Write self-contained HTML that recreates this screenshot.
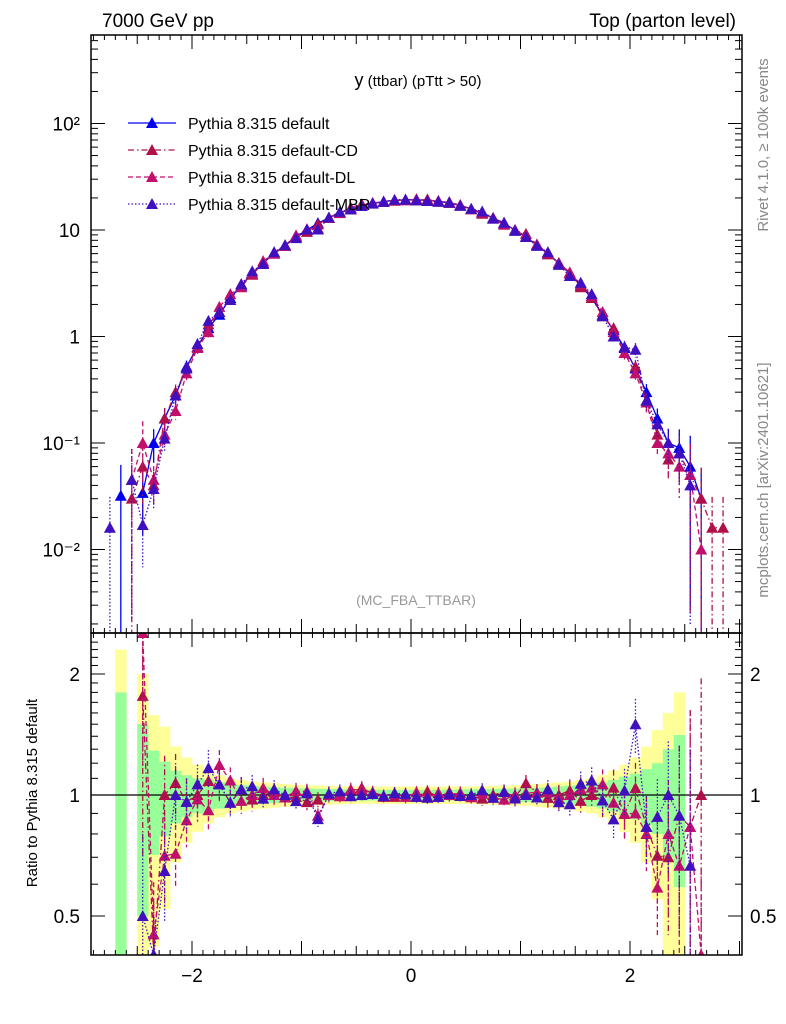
<!DOCTYPE html>
<html><head><meta charset="utf-8"><style>
html,body{margin:0;padding:0;background:#fff;width:786px;height:1024px;overflow:hidden}
svg{display:block;font-family:"Liberation Sans",sans-serif}
</style></head><body>
<svg id="chart" width="786" height="1024" viewBox="0 0 786 1024">
<text x="102" y="27" font-size="19">7000 GeV pp</text>
<text x="736" y="27" font-size="19" text-anchor="end">Top (parton level)</text>
<text x="418" y="86" text-anchor="middle"><tspan font-size="18">y</tspan><tspan font-size="15"> (ttbar) (pTtt &gt; 50)</tspan></text>
<text x="416" y="605" font-size="14" fill="#999" text-anchor="middle">(MC_FBA_TTBAR)</text>
<text transform="translate(768,145) rotate(-90)" font-size="15" fill="#888" text-anchor="middle">Rivet 4.1.0, ≥ 100k events</text>
<text transform="translate(768,480) rotate(-90)" font-size="15" fill="#888" text-anchor="middle">mcplots.cern.ch [arXiv:2401.10621]</text>
<text transform="translate(37,793) rotate(-90)" font-size="15" text-anchor="middle">Ratio to Pythia 8.315 default</text>
<g id="bands"></g>
<g id="series"></g>
<g id="axes"></g>
<g id="legend"></g>
</svg>
<script>
const centers = [-2.75,-2.65,-2.55,-2.45,-2.35,-2.25,-2.15,-2.05,-1.95,-1.85,-1.75,-1.65,-1.55,-1.45,-1.35,-1.25,-1.15,-1.05,-0.95,-0.85,-0.75,-0.65,-0.55,-0.45,-0.35,-0.25,-0.15,-0.05,0.05,0.15,0.25,0.35,0.45,0.55,0.65,0.75,0.85,0.95,1.05,1.15,1.25,1.35,1.45,1.55,1.65,1.75,1.85,1.95,2.05,2.15,2.25,2.35,2.45,2.55,2.65,2.75,2.85];
const defaultVals = [null,0.032,null,0.034,0.10,0.17,0.28,0.52,0.80,1.2,1.6,2.3,3.0,3.9,4.9,6.0,7.2,8.7,10.0,11.6,13.0,14.5,15.7,16.8,17.7,18.5,19.0,19.2,19.2,19.0,18.6,18.0,17.0,15.8,14.5,13.0,11.5,10.0,8.6,7.2,6.0,4.9,3.9,3.0,2.3,1.6,1.15,0.78,0.50,0.30,0.17,0.10,0.09,0.06,0.03,null,null];
const cdVals = [null,null,0.03,0.06,0.04,0.17,0.3,0.5,0.8,1.3,1.7,2.2,3.1,3.8,4.9,6.1,7.1,8.6,9.6,11.3,13.0,14.6,15.6,17.5,17.8,18.3,18.8,19.3,19.0,19.4,18.4,18.3,16.9,15.7,14.2,13.0,11.7,9.9,9.2,7.3,5.9,4.9,4.0,2.9,2.3,1.55,1.2,0.7,0.52,0.25,0.12,0.07,0.08,0.05,0.03,0.016,0.016];
const dlVals = [null,null,0.045,0.1,0.045,0.12,0.2,0.45,0.78,1.1,1.9,2.5,2.9,3.9,5.1,6.0,7.1,8.9,10.2,10.3,13.0,14.4,16.2,17.3,18.0,18.4,19.1,19.0,19.5,18.8,18.8,18.0,17.2,15.6,14.6,12.8,11.2,10.0,8.7,7.3,6.1,4.8,3.9,3.1,2.4,1.7,1.1,0.7,0.45,0.24,0.1,0.08,0.06,0.05,0.01,null,null];
const mbrVals = [0.016,null,0.045,0.017,0.037,0.11,0.28,0.5,0.85,1.4,1.7,2.2,3.1,4.1,4.8,6.2,7.2,8.4,10.1,10.1,13.1,14.8,15.6,16.8,17.8,18.4,19.2,19.3,19.0,18.7,18.4,18.1,16.9,15.8,14.9,12.8,11.7,9.8,8.6,7.1,6.2,4.7,3.7,3.2,2.5,1.55,1.0,0.8,0.75,0.25,0.15,0.10,0.08,0.04,null,null,null];
const greenErr = [null,0.8,null,0.5,0.29,0.21,0.15,0.12,0.10,0.09,0.075,0.065,0.06,0.055,0.05,0.045,0.042,0.04,0.038,0.036,0.035,0.034,0.033,0.032,0.031,0.03,0.03,0.03,0.03,0.03,0.03,0.031,0.032,0.033,0.034,0.035,0.036,0.038,0.04,0.042,0.045,0.05,0.055,0.06,0.065,0.075,0.09,0.11,0.13,0.16,0.2,0.3,0.41,null,null,null,null];
const yellowErr = [null,1.3,null,1.0,0.58,0.48,0.32,0.24,0.19,0.15,0.12,0.1,0.09,0.08,0.075,0.07,0.065,0.06,0.058,0.056,0.054,0.052,0.05,0.05,0.05,0.05,0.05,0.05,0.05,0.05,0.05,0.05,0.05,0.05,0.052,0.054,0.056,0.058,0.06,0.065,0.07,0.075,0.08,0.09,0.1,0.12,0.15,0.19,0.24,0.32,0.45,0.6,0.8,null,null,null,null];
const yTicks = ["10\u207B\u00B2","10\u207B\u00B9","1","10","10\u00B2"];
const xTickLabels = ["\u22122","0","2"];

const X0=91,X1=742,Y0=35,YM=633,Y1=955;
const xs=x=>411+x*109.5;
const cl=(v,a,b)=>Math.max(a,Math.min(b,v));
const ym=v=>cl(230-(Math.log10(v)-1)*106.5,Y0,YM);
const yr=r=>cl(795-Math.log10(r)*402,YM,Y1);
const NS="http://www.w3.org/2000/svg";
function mk(tag,attrs,parent){const e=document.createElementNS(NS,tag);for(const k in attrs)e.setAttribute(k,attrs[k]);parent.appendChild(e);return e;}
const svg=document.getElementById('chart');
const defs=mk('defs',{},svg);
const cm=mk('clipPath',{id:'cm'},defs);mk('rect',{x:X0,y:Y0,width:X1-X0,height:YM-Y0},cm);
const cr=mk('clipPath',{id:'cr'},defs);mk('rect',{x:X0,y:YM,width:X1-X0,height:Y1-YM},cr);

const gb=document.getElementById('bands');gb.setAttribute('clip-path','url(#cr)');
[[yellowErr,'#ffff99','yellow'],[greenErr,'#99ff99','green']].forEach(([arr,col,nm])=>{
 arr.forEach((e,i)=>{ if(e==null)return;
  const lo=Math.max(1-e,0.05),hi=1+e;
  const r=mk('rect',{x:xs(centers[i]-0.05),width:109.5*0.1+0.3,y:yr(hi),height:yr(lo)-yr(hi),fill:col},gb);
  
  
 });
});
mk('line',{x1:X0,x2:X1,y1:yr(1),y2:yr(1),stroke:'#000','stroke-width':1.2},gb);

const series=[
 {name:'default',vals:defaultVals,col:'#0000ee',dash:'',label:'Pythia 8.315 default'},
 {name:'default-cd',vals:cdVals,col:'#b0104a',dash:'6,3,1.5,3',label:'Pythia 8.315 default-CD'},
 {name:'default-dl',vals:dlVals,col:'#c0106c',dash:'5,3',label:'Pythia 8.315 default-DL'},
 {name:'default-mbr',vals:mbrVals,col:'#4010c0',dash:'1.5,2',label:'Pythia 8.315 default-MBR'}
];
const gs=document.getElementById('series');
function tri(g,x,y,col){return mk('path',{d:`M${x-6},${y+5}L${x+6},${y+5}L${x},${y-6}Z`,fill:col},g);}
series.forEach((s,si)=>{
 const gm=mk('g',{'clip-path':'url(#cm)'},gs);
 
 
 const grr=mk('g',{'clip-path':'url(#cr)'},gs);
 
 
 let p='',pr='';let pen=false,penr=false;
 s.vals.forEach((v,i)=>{
  if(v==null){pen=false;penr=false;return;}
  p+=(pen?'L':'M')+xs(centers[i])+','+ym(v);pen=true;
  const d=defaultVals[i];
  if(d!=null){pr+=(penr?'L':'M')+xs(centers[i])+','+yr(v/d);penr=true;}else penr=false;
 });
 mk('path',{d:p,fill:'none',stroke:s.col,'stroke-width':1.3,'stroke-dasharray':s.dash},gm);
 if(si>0) mk('path',{d:pr,fill:'none',stroke:s.col,'stroke-width':1.3,'stroke-dasharray':s.dash},grr);
 s.vals.forEach((v,i)=>{
  if(v==null)return;
  const x=xs(centers[i]);
  const e=Math.min((greenErr[i]==null?0.9:greenErr[i])*1.2,0.95);
  mk('line',{x1:x,x2:x,y1:ym(v*(1+e)),y2:ym(v*(1-e)),stroke:s.col,'stroke-width':1.3,'stroke-dasharray':s.dash},gm);
  const t=tri(gm,x,ym(v),s.col);
  
  
  const d=defaultVals[i];
  if(d!=null && si>0){
   const r=v/d;
   mk('line',{x1:x,x2:x,y1:yr(r*(1+e)),y2:yr(Math.max(r*(1-e),0.05)),stroke:s.col,'stroke-width':1.3,'stroke-dasharray':s.dash},grr);
   const tr=tri(grr,x,yr(r),s.col);
   
   
  }
 });
});

const ga=document.getElementById('axes');
mk('rect',{x:X0,y:Y0,width:X1-X0,height:YM-Y0,fill:'none',stroke:'#000','stroke-width':1.5},ga);
mk('rect',{x:X0,y:YM,width:X1-X0,height:Y1-YM,fill:'none',stroke:'#000','stroke-width':1.5},ga);
for(let k=-29;k<=30;k++){const x=k/10;const px=xs(x);if(px<X0||px>X1)continue;
 const big=k%10==0, med=k%5==0; const L=big?14:(med?9:5);
 [[YM,-1],[Y0,1],[Y1,-1],[YM,1]].forEach(([yy,dir])=>mk('line',{x1:px,x2:px,y1:yy,y2:yy+dir*L,stroke:'#000','stroke-width':1},ga));
}
[-2,0,2].forEach((v,i)=>{const t=mk('text',{x:xs(v),y:982,'font-size':19,'text-anchor':'middle'},ga);t.textContent=xTickLabels[i];
 });
for(let d=-3;d<=2;d++){for(let m=1;m<10;m++){const v=m*Math.pow(10,d);const raw=230-(Math.log10(v)-1)*106.5;if(raw<Y0||raw>YM)continue;const py=raw;
 const L=m==1?14:7;mk('line',{x1:X0,x2:X0+L,y1:py,y2:py,stroke:'#000'},ga);mk('line',{x1:X1,x2:X1-L,y1:py,y2:py,stroke:'#000'},ga);}}
[-2,-1,0,1,2].forEach((d,i)=>{const t=mk('text',{x:80,y:ym(Math.pow(10,d))+7,'font-size':19,'text-anchor':'end'},ga);t.textContent=yTicks[i];
 });
[0.5,0.6,0.7,0.8,0.9,1,2].forEach(v=>{const py=yr(v);const L=(v==1||v==2||v==0.5)?14:7;
 mk('line',{x1:X0,x2:X0+L,y1:py,y2:py,stroke:'#000'},ga);mk('line',{x1:X1,x2:X1-L,y1:py,y2:py,stroke:'#000'},ga);});
for(let v=1.1;v<2.5;v+=0.1){if(Math.abs(v-2)<0.01)continue;const py=yr(v);const L=7;mk('line',{x1:X0,x2:X0+L,y1:py,y2:py,stroke:'#000'},ga);mk('line',{x1:X1,x2:X1-L,y1:py,y2:py,stroke:'#000'},ga);}
[['2',2],['1',1],['0.5',0.5]].forEach(([s,v])=>{
 const a=mk('text',{x:80,y:yr(v)+7,'font-size':19,'text-anchor':'end'},ga);a.textContent=s;
 
 const b=mk('text',{x:750,y:yr(v)+7,'font-size':19},ga);b.textContent=s;
 });
const gl=document.getElementById('legend');
series.forEach((s,i)=>{const y=123+27*i;
 const g=mk('g',{},gl);
 
 
 mk('line',{x1:128,x2:176,y1:y,y2:y,stroke:s.col,'stroke-width':1.3,'stroke-dasharray':s.dash},g);
 tri(g,152,y,s.col);
 const t=mk('text',{x:188,y:y+6,'font-size':16},g);t.textContent=s.label;});
</script>
</body></html>
